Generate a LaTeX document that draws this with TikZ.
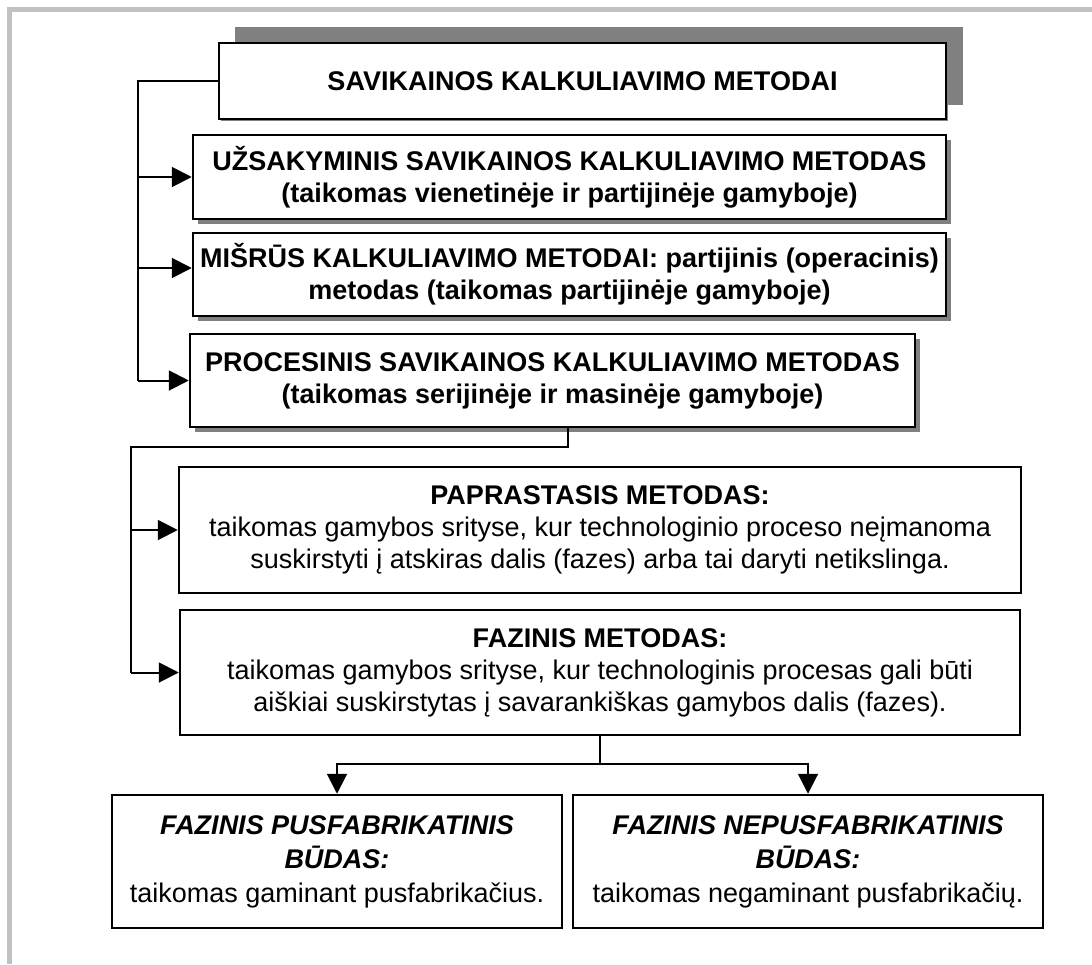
\documentclass[tikz,border=0pt]{standalone}
\usepackage{fontspec}
\setmainfont{Liberation Sans}
\usetikzlibrary{arrows.meta,shadows}
\definecolor{shgray}{HTML}{808080}
\definecolor{framegray}{HTML}{C2C2C6}
\begin{document}
\begin{tikzpicture}[x=0.5pt,y=-0.5pt,
  box/.style={draw=black,line width=1.25pt,fill=white,align=center,inner sep=0pt,
    font=\fontsize{13.5}{16}\selectfont},
  bbox/.style={box,font=\fontsize{13.5}{16}\selectfont\bfseries},
  lowbox/.style={box,font=\fontsize{13.5}{17}\selectfont},
  shsmall/.style={drop shadow={shadow xshift=2.5pt,shadow yshift=-2.5pt,fill=shgray,opacity=1}},
  shthin/.style={drop shadow={shadow xshift=1pt,shadow yshift=-1pt,fill=shgray,opacity=1}},
  conn/.style={line width=1pt,draw=black},
  arr/.style={conn,-{Triangle[length=10pt,width=10pt]}}]
\useasboundingbox (0,0) rectangle (1092,964);
% frame
\draw[framegray,line width=2.5pt] (9.5,964) -- (9.5,9.5) -- (1092,9.5);
% big shadow of title box
\fill[shgray] (235,27) rectangle (963,105);
% boxes
\node[bbox,shthin,minimum width=363.5pt,minimum height=38pt] (t) at (582.5,81)
  {SAVIKAINOS KALKULIAVIMO METODAI};
\node[bbox,shsmall,minimum width=376.5pt,minimum height=42pt] (u) at (569.5,177)
  {UŽSAKYMINIS SAVIKAINOS KALKULIAVIMO METODAS\\(taikomas vienetinėje ir partijinėje gamyboje)};
\node[bbox,shsmall,minimum width=376.5pt,minimum height=41.5pt] (m) at (569.5,274.5)
  {MIŠRŪS KALKULIAVIMO METODAI: partijinis (operacinis)\\metodas (taikomas partijinėje gamyboje)};
\node[bbox,shsmall,minimum width=362.5pt,minimum height=46.5pt] (p) at (552.5,380.5)
  {PROCESINIS SAVIKAINOS KALKULIAVIMO METODAS\\(taikomas serijinėje ir masinėje gamyboje)};
\node[box,minimum width=421pt,minimum height=63pt] (pa) at (600,530)
  {{\bfseries PAPRASTASIS METODAS:}\\taikomas gamybos srityse, kur technologinio proceso neįmanoma\\suskirstyti į atskiras dalis (fazes) arba tai daryti netikslinga.};
\node[box,minimum width=420pt,minimum height=62.5pt] (fa) at (600,672.5)
  {{\bfseries FAZINIS METODAS:}\\taikomas gamybos srityse, kur technologinis procesas gali būti\\aiškiai suskirstytas į savarankiškas gamybos dalis (fazes).};
\node[lowbox,minimum width=225pt,minimum height=66.5pt] (bl) at (337,861.5)
  {{\bfseries\itshape FAZINIS PUSFABRIKATINIS}\\{\bfseries\itshape BŪDAS:}\\taikomas gaminant pusfabrikačius.};
\node[lowbox,minimum width=235pt,minimum height=66.5pt] (br) at (808,861.5)
  {{\bfseries\itshape FAZINIS NEPUSFABRIKATINIS}\\{\bfseries\itshape BŪDAS:}\\taikomas negaminant pusfabrikačių.};
% connector coordinates
\coordinate (c0) at (138,81);
\coordinate (c1) at (138,177);
\coordinate (c2) at (138,268);
\coordinate (c3) at (138,380.5);
\coordinate (d0) at (568,447);
\coordinate (d1) at (131,447);
\coordinate (d2) at (131,530);
\coordinate (d3) at (131,672.5);
\coordinate (e0) at (600,764);
% connectors
\draw[conn] (t.west) -- (c0) -- (c3);
\draw[arr] (c1) -- (u.west);
\draw[arr] (c2) -- (m.west |- c2);
\draw[arr] (c3) -- (p.west);
\draw[conn] (p.south -| d0) -- (d0) -- (d1) -- (d3);
\draw[arr] (d2) -- (pa.west);
\draw[arr] (d3) -- (fa.west);
\draw[conn] (fa.south) -- (e0);
\draw[arr] (e0) -| (bl.north);
\draw[arr] (e0) -| (br.north);
\end{tikzpicture}
\end{document}
